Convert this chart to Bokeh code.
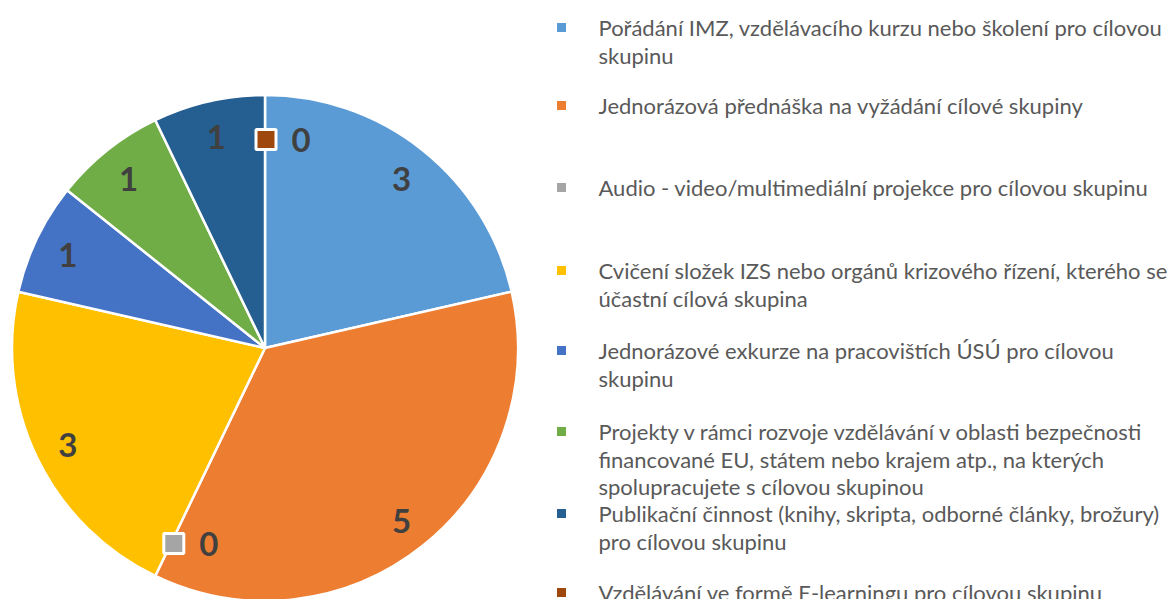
import math
from bokeh.plotting import figure
from bokeh.models import Range1d
from bokeh.core.properties import value
from bokeh.embed import file_html
from bokeh.resources import INLINE

categories = [
    "Pořádání IMZ, vzdělávacího kurzu nebo školení pro cílovou\nskupinu",
    "Jednorázová přednáška na vyžádání cílové skupiny",
    "Audio - video/multimediální projekce pro cílovou skupinu",
    "Cvičení složek IZS nebo orgánů krizového řízení, kterého se\núčastní cílová skupina",
    "Jednorázové exkurze na pracovištích ÚSÚ pro cílovou\nskupinu",
    "Projekty v rámci rozvoje vzdělávání v oblasti bezpečnosti\nfinancované EU, státem nebo krajem atp., na kterých\nspolupracujete s cílovou skupinou",
    "Publikační činnost (knihy, skripta, odborné články, brožury)\npro cílovou skupinu",
    "Vzdělávání ve formě E-learningu pro cílovou skupinu",
]
counts = [3, 5, 0, 3, 1, 1, 1, 0]
colors = ["#5B9BD5", "#ED7D31", "#A5A5A5", "#FFC000", "#4472C4", "#70AD47", "#255E91", "#9E480E"]

W, H = 1173, 599
p = figure(width=W, height=H, x_range=Range1d(0, W), y_range=Range1d(0, H),
           output_backend="svg", toolbar_location=None, min_border=0)
p.axis.visible = False
p.grid.visible = False
p.outline_line_color = None

FONT = "Lato"
cx, cy, R = 264.5, H - 347.5, 253.0
total = sum(counts)

cum = 0
for c, col in zip(counts, colors):
    a0 = math.pi / 2 - 2 * math.pi * cum / total
    cum += c
    a1 = math.pi / 2 - 2 * math.pi * cum / total
    if c > 0:
        p.wedge(x=cx, y=cy, radius=R, start_angle=a0, end_angle=a1, direction="clock",
                fill_color=col, line_color="white", line_width=2.5)

# data labels
cum = 0
for c, col in zip(counts, colors):
    a0 = math.pi / 2 - 2 * math.pi * cum / total
    cum += c
    a1 = math.pi / 2 - 2 * math.pi * cum / total
    if c > 0:
        mid = (a0 + a1) / 2
        r = 0.865 * R
        p.text(x=[cx + r * math.cos(mid)], y=[cy + r * math.sin(mid) - 2], text=[str(c)],
               text_font=value(FONT), text_font_style="bold", text_font_size="33px",
               text_color="#404040", text_align="center", text_baseline="middle")
    else:
        r = 0.84 * R
        x0 = cx + r * math.cos(a0) + 1
        y0 = cy + r * math.sin(a0) - 4
        p.scatter(x=[x0], y=[y0], marker="square", size=20, fill_color=col,
                  line_color="white", line_width=3)
        p.text(x=[x0 + 35], y=[y0 - 1], text=[str(c)],
               text_font=value(FONT), text_font_style="bold", text_font_size="33px",
               text_color="#404040", text_align="center", text_baseline="middle")

# legend
item_top = [27, 105, 187, 270, 350, 431, 513, 592]  # screen y of first line
line_gap = 27.5
for lab, col, sy in zip(categories, colors, item_top):
    y = H - sy
    p.scatter(x=[561], y=[y], marker="square", size=9, fill_color=col, line_color=None)
    for i, line in enumerate(lab.split("\n")):
        p.text(x=[598], y=[y - i * line_gap], text=[line], text_font=value(FONT),
               text_font_size="22px", text_color="#595959",
               text_align="left", text_baseline="middle")

open("out.html", "w").write(file_html(p, INLINE))
